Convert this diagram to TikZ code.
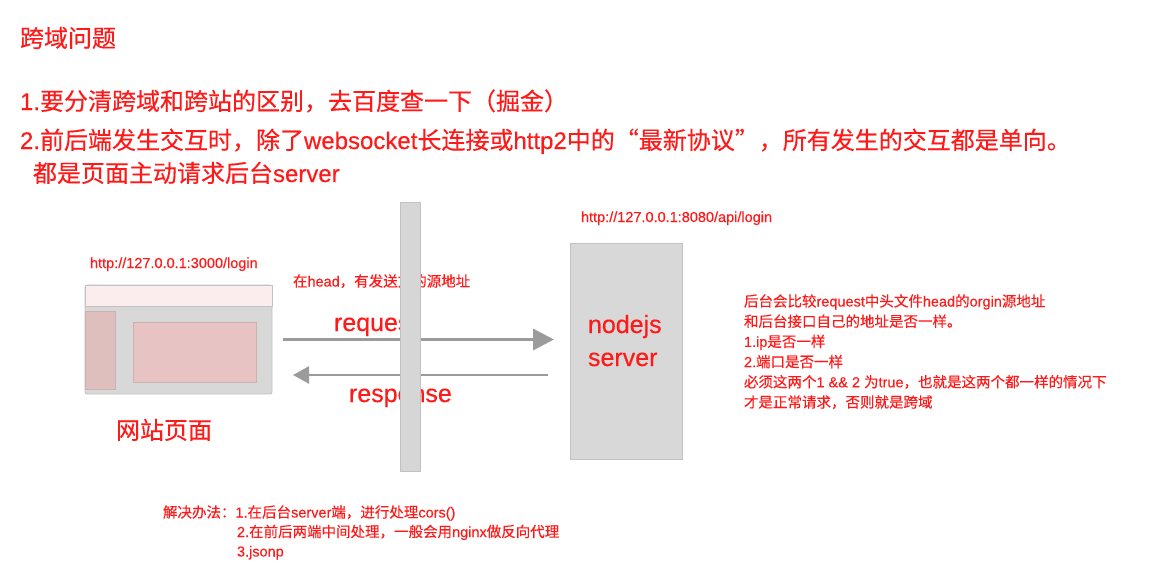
\documentclass[tikz,border=0pt]{standalone}
\usepackage{fontspec}
\setmainfont{Liberation Sans}[FakeBold=0.4]
\newfontfamily\cjk{Noto Sans CJK SC}[FakeBold=0.4]
\usetikzlibrary{arrows.meta}
\definecolor{txtred}{HTML}{FF1A1A}
\definecolor{arrowgray}{HTML}{9B9B9B}
\definecolor{boxgray}{HTML}{D8D8D8}
\definecolor{boxline}{HTML}{C2C2C2}
\definecolor{barfill}{HTML}{D6D6D6}
\definecolor{topbar}{HTML}{FBEDED}
\definecolor{leftpane}{HTML}{DFBEBE}
\definecolor{rightpane}{HTML}{E8C3C3}
\definecolor{paneline}{HTML}{CDB0B0}
\newcommand{\zh}[1]{{\cjk #1}}
\begin{document}
\begin{tikzpicture}[x=1pt,y=-1pt,
  every node/.style={inner sep=0pt,outer sep=0pt,text=txtred},
  big/.style={font=\fontsize{24}{28}\selectfont,anchor=base west},
  mid/.style={font=\fontsize{25}{30}\selectfont,anchor=base west},
  small/.style={font=\fontsize{14.5}{17}\selectfont,anchor=base west},
  panel/.style={draw=boxline,fill=boxgray,line width=0.8pt,anchor=north west},
  conn/.style={draw=arrowgray}]
\useasboundingbox (0,0) rectangle (1155,578);

% header texts
\node[big] (title) at (20,47) {\zh{跨域问题}};
\node[big] (l1) at (20,110) {1.\zh{要分清跨域和跨站的区别，去百度查一下（掘金）}};
\node[big] (l2) at (20,149) {2.\zh{前后端发生交互时，除了}websocket\zh{长连接或}http2\zh{中的“最新协议”，所有发生的交互都是单向。}};
\node[big] (l3) at (33,182) {\zh{都是页面主动请求后台}server};

% browser window
\node[small] (url1) at (90,268) {http://127.0.0.1:3000/login};
\node[panel,rounded corners=2pt,minimum width=187pt,minimum height=109pt] (browser) at (85,285) {};
\node[draw=boxline,fill=topbar,line width=0.8pt,anchor=north west,minimum width=187pt,minimum height=21pt] (tbar) at (85,285) {};
\node[draw=paneline,fill=leftpane,line width=0.6pt,anchor=north west,minimum width=30pt,minimum height=78pt] (lpane) at (85,311) {};
\node[draw=paneline,fill=rightpane,line width=0.6pt,anchor=north west,minimum width=123pt,minimum height=60pt] (rpane) at (133,322) {};
\node[big] (site) at (116,439) {\zh{网站页面}};

% server
\node[small] (url2) at (581,222) {http://127.0.0.1:8080/api/login};
\node[panel,minimum width=112pt,minimum height=216pt] (server) at (570,243) {};
\node[mid] (node1) at (588,333) {nodejs};
\node[mid] (node2) at (588,366) {server};

% arrows
\coordinate (respY) at (0,375);
\draw[conn,line width=3.3pt,-{Triangle[length=21pt,width=21pt]},shorten <=11pt,shorten >=16pt]
  (browser.east) -- (browser.east -| server.west);
\draw[conn,line width=2.5pt,-{Triangle[length=16pt,width=17pt]},shorten <=22pt,shorten >=21pt]
  (respY -| server.west) -- (respY -| browser.east);
\node[mid] (req) at (334,331) {request};
\node[mid] (resp) at (349,402) {response};
\node[small] (head) at (293,286.5) {\zh{在}head\zh{，有发送方的源地址}};

% wall
\node[draw=boxline,fill=barfill,line width=0.6pt,anchor=north west,minimum width=20pt,minimum height=269pt] (bar) at (400,202) {};

% right notes
\node[small] (n1) at (744,306.5) {\zh{后台会比较}request\zh{中头文件}head\zh{的}orgin\zh{源地址}};
\node[small] (n2) at (744,326.7) {\zh{和后台接口自己的地址是否一样。}};
\node[small] (n3) at (744,346.9) {1.ip\zh{是否一样}};
\node[small] (n4) at (744,367.1) {2.\zh{端口是否一样}};
\node[small] (n5) at (744,387.3) {\zh{必须这两个}1 \&\& 2 \zh{为}true\zh{，也就是这两个都一样的情况下}};
\node[small] (n6) at (744,407.5) {\zh{才是正常请求，否则就是跨域}};

% bottom notes
\node[small] (s1) at (163,517.5) {\zh{解决办法：}1.\zh{在后台}server\zh{端，进行处理}cors()};
\node[small] (s2) at (237,537) {2.\zh{在前后两端中间处理，一般会用}nginx\zh{做反向代理}};
\node[small] (s3) at (237,556.5) {3.jsonp};
\end{tikzpicture}
\end{document}
